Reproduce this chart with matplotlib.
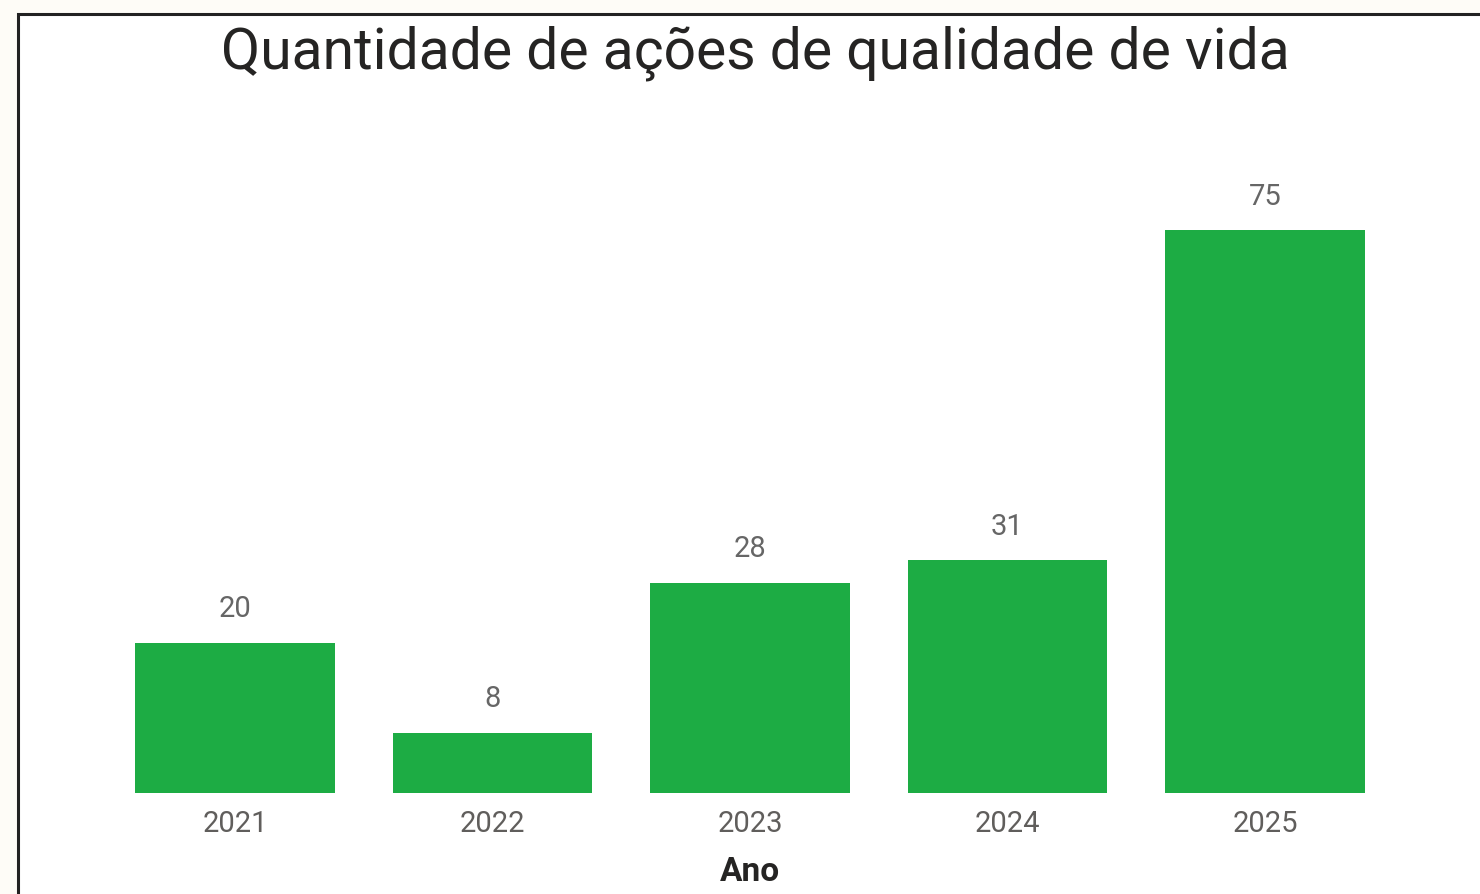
import matplotlib
matplotlib.use("Agg")
import matplotlib.pyplot as plt
from matplotlib.patches import Rectangle

anos = ["2021", "2022", "2023", "2024", "2025"]
quantidades = [20, 8, 28, 31, 75]

plt.rcParams["font.family"] = ["Roboto", "DejaVu Sans"]

fig = plt.figure(figsize=(14.8, 8.94), dpi=100)
fig.patch.set_facecolor("#fefcf7")

# moldura do visual (continua além da borda direita/inferior)
fig.patches.append(Rectangle((18 / 1480, -0.05), 1.1, 1 - 14 / 894 + 0.05,
                             transform=fig.transFigure, facecolor="white",
                             edgecolor="#222222", linewidth=2.2, zorder=-5))

ax = fig.add_axes([106.25 / 1480, 1 - 793 / 894, 1287.5 / 1480, 663 / 894])
ax.set_facecolor("none")
x = range(len(anos))
bars = ax.bar(x, quantidades, width=0.773, color="#1dac44")
ax.set_xlim(-0.5, len(anos) - 0.5)
ax.set_ylim(0, 663 / 7.507)

for b, v in zip(bars, quantidades):
    ax.annotate(str(v), (b.get_x() + b.get_width() / 2, v), xytext=(0, 14),
                textcoords="offset points", ha="center", va="bottom",
                fontsize=21, color="#666666")

ax.set_xticks(list(x))
ax.set_xticklabels(anos, fontsize=21, color="#605e5c")
ax.tick_params(axis="x", length=0, pad=12)
ax.set_yticks([])
for s in ax.spines.values():
    s.set_visible(False)

ax.set_xlabel("Ano", fontsize=24, fontweight="semibold", color="#252423", labelpad=13)

fig.text(755 / 1480, 1 - 53 / 894, "Quantidade de ações de qualidade de vida",
         ha="center", va="center", fontsize=41, color="#252423")

fig.savefig("out.png", dpi=100, facecolor=fig.get_facecolor())
